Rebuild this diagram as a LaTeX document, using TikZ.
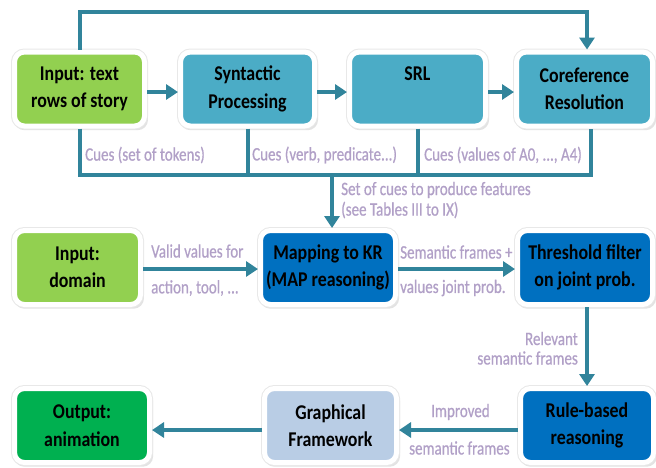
\documentclass[tikz,border=0pt]{standalone}
\usepackage{fontspec}
\setmainfont{Carlito}
\newfontfamily\boxfont[FakeStretch=0.85]{Carlito}
\newfontfamily\labfont[FakeStretch=0.79,FakeBold=0.7]{Carlito}
\usetikzlibrary{arrows.meta,shadows}
\definecolor{cgreen}{HTML}{92D050}
\definecolor{cteal}{HTML}{4BACC6}
\definecolor{cblue}{HTML}{0070C0}
\definecolor{clight}{HTML}{B9CDE5}
\definecolor{cout}{HTML}{00B050}
\definecolor{cline}{HTML}{31849B}
\definecolor{clab}{HTML}{B1A0C7}
\tikzset{
  box/.style={rectangle, rounded corners=10pt, draw=white, line width=5pt,
    minimum width=#1, minimum height=74pt, align=center,
    font=\boxfont\fontsize{21}{27.5}\selectfont\bfseries,
    drop shadow={shadow xshift=1.5pt, shadow yshift=-3pt, shadow scale=1.03, fill=black!22},
    preaction={draw=black!9, line width=7pt}},
  ln/.style={draw=cline, line width=4pt},
  arr/.style={ln, -{Triangle[length=12pt,width=15pt]}},
  lab/.style={text=clab, font=\labfont\fontsize{19}{20}\selectfont, inner sep=0pt}
}
\begin{document}
\begin{tikzpicture}[x={(1pt,0)}, y={(0,-1pt)}]
\useasboundingbox (0,0) rectangle (656,467);
% row 1
\node[box=130pt, fill=cgreen] (in)  at (79.5,89) {Input: text\\rows of story};
\node[box=134pt, fill=cteal]  (syn) at (247.5,89) {Syntactic\\Processing};
\node[box=136pt, fill=cteal]  (srl) at (417.5,89) {SRL\\\phantom{g}};
\node[box=136pt, fill=cteal]  (co)  at (584.5,89) {Coreference\\Resolution};
% row 2
\node[box=126pt, fill=cgreen] (dom) at (77.5,267.5) {Input:\\domain};
\node[box=135pt, fill=cblue]  (map) at (328,267.5) {Mapping to KR\\(MAP reasoning)};
\node[box=135pt, fill=cblue]  (thr) at (585,267.5) {Threshold filter\\on joint prob.};
% row 3
\node[box=135pt, fill=cout]   (out) at (82,425.5) {Output:\\animation};
\node[box=132pt, fill=clight] (gra) at (330.5,425.5) {Graphical\\Framework};
\node[box=133pt, fill=cblue]  (rul) at (587,425.5) {Rule-based\\reasoning};
% row 1 connectors
\draw[arr] ([yshift=-3pt]in.east) -- ([yshift=-3pt]syn.west);
\draw[arr] ([yshift=-3pt]syn.east) -- ([yshift=-3pt]srl.west);
\draw[arr] ([yshift=-3pt]srl.east) -- ([yshift=-3pt]co.west);
\coordinate (tR) at (587,12);
\draw[arr] (in.north) |- (tR) -- (tR |- co.north);
\coordinate (bR) at (591,175);
\draw[ln] (in.south) |- (bR) -- (bR |- co.south);
\draw[ln] (syn.south) -- (syn.south |- bR);
\draw[ln] (srl.south) -- (srl.south |- bR);
\coordinate (bM) at (332,173);
\draw[arr] (bM) -- (bM |- map.north);
% row 2 connectors
\draw[arr] ([yshift=-1.5pt]dom.east) -- ([yshift=-1.5pt]map.west);
\draw[arr] ([yshift=-1.5pt]map.east) -- ([yshift=-1.5pt]thr.west);
\coordinate (vR) at (587,300);
\draw[arr] (vR |- thr.south) -- (vR |- rul.north);
% row 3 connectors
\draw[arr] ([yshift=-4.5pt]rul.west) -- ([yshift=-4.5pt]gra.east);
\draw[arr] ([yshift=-4.5pt]gra.west) -- ([yshift=-4.5pt]out.east);
% labels
\node[lab, anchor=west] (l1) at (85,155) {Cues (set of tokens)};
\node[lab, anchor=west] (l2) at (252,155) {Cues (verb, predicate...)};
\node[lab, anchor=west] (l3) at (424,155) {Cues (values of A0, ..., A4)};
\node[lab, anchor=west] (l4) at (341,190) {Set of cues to produce features};
\node[lab, anchor=west] (l5) at (341,210) {(see Tables III to IX)};
\node[lab, anchor=west] (l6) at (151,251) {Valid values for};
\node[lab, anchor=west] (l7) at (151,288) {action,\ tool, ...};
\node[lab, anchor=west] (l8) at (400,252) {Semantic frames +};
\node[lab, anchor=west] (l9) at (400,288) {values joint prob.};
\node[lab, anchor=east] (l10) at (578,338.5) {Relevant};
\node[lab, anchor=east] (l11) at (578,358) {semantic frames};
\node[lab, anchor=west] (l12) at (431,412) {Improved};
\node[lab, anchor=west] (l13) at (409,448) {semantic frames};
\end{tikzpicture}
\end{document}
